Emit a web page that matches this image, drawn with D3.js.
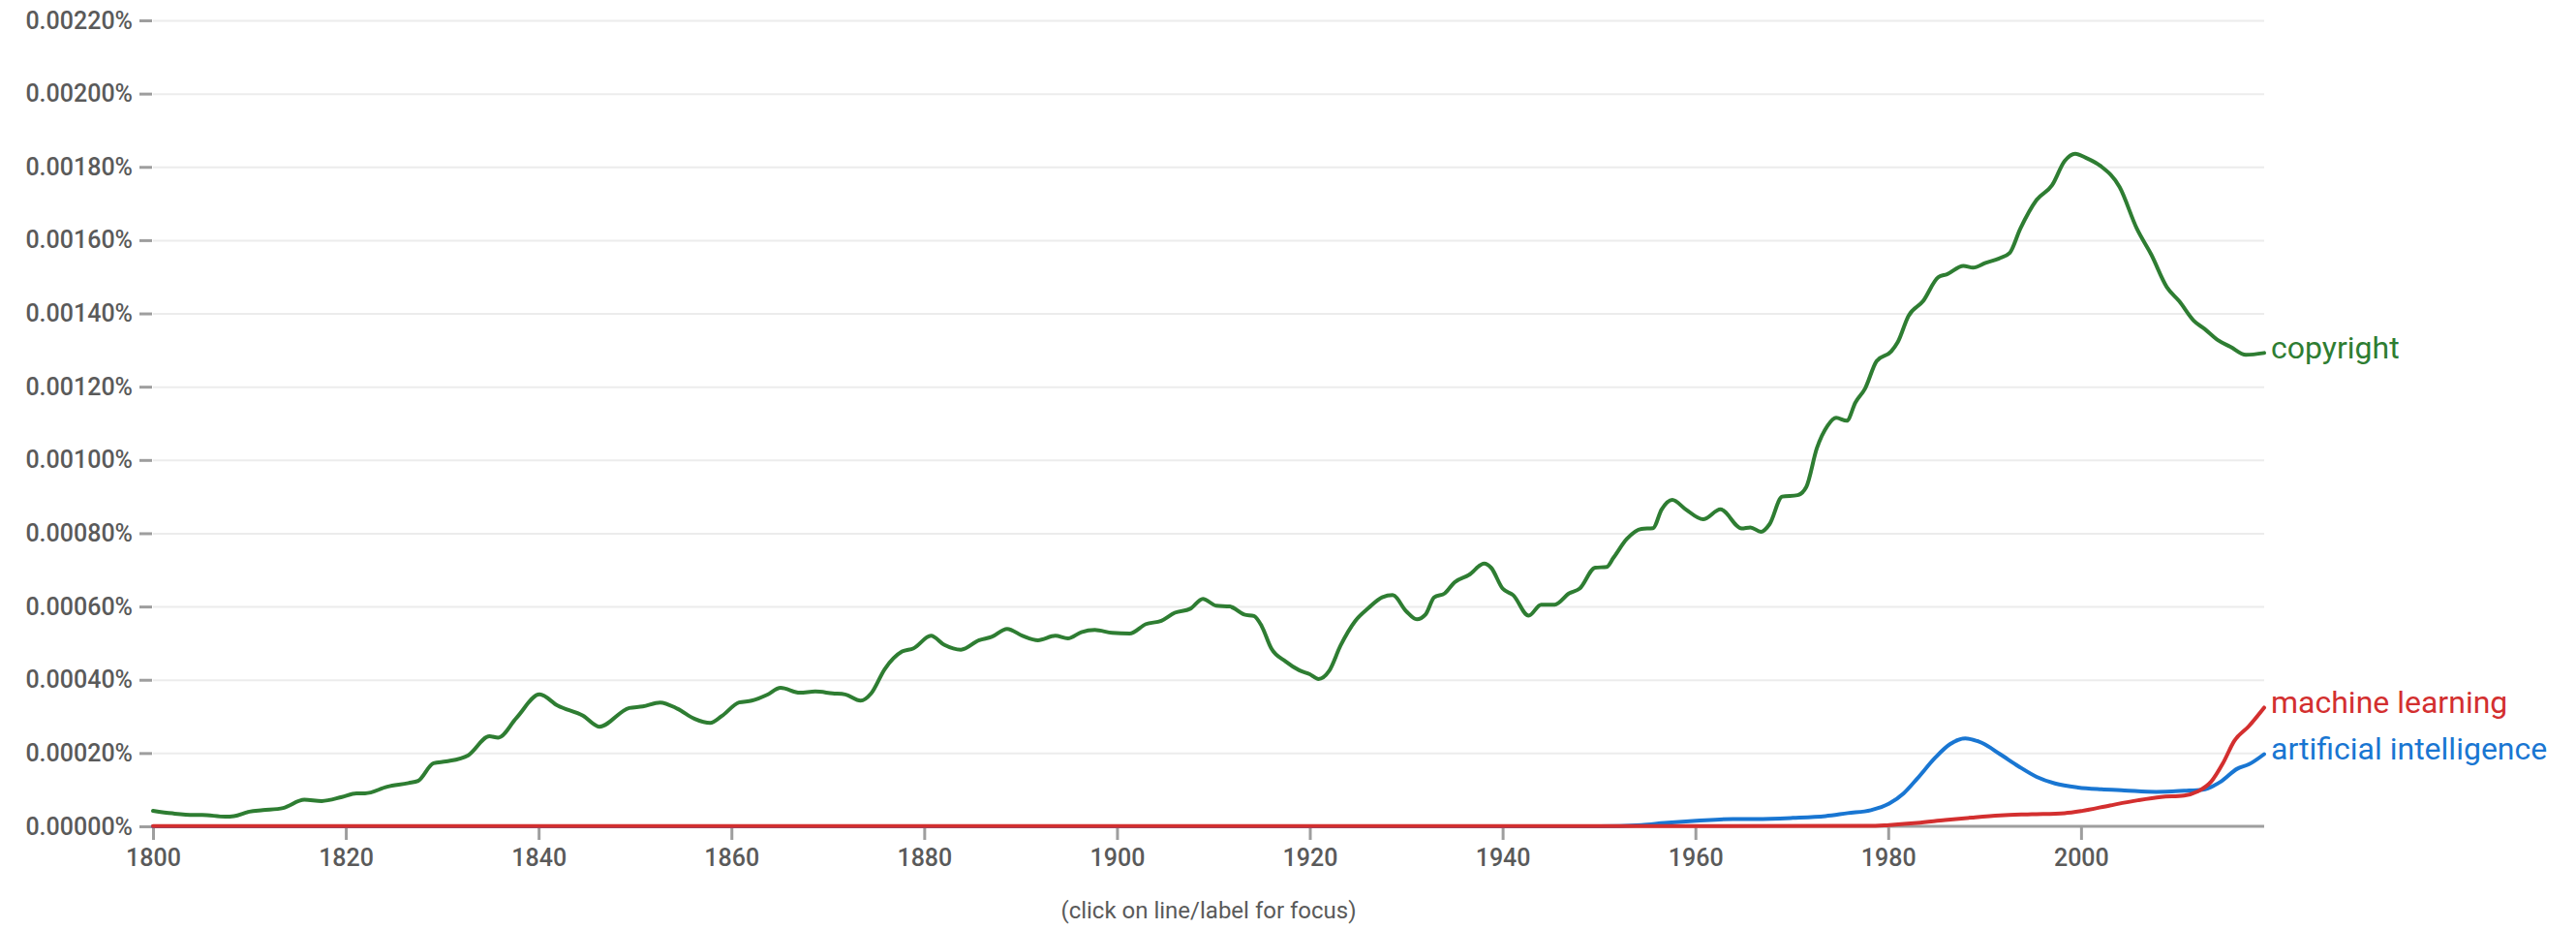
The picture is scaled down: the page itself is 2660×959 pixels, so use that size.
<!DOCTYPE html>
<html>
<head>
<meta charset="utf-8">
<script src="https://cdn.jsdelivr.net/npm/d3@7"></script>
<style>
  html, body { margin: 0; padding: 0; background: #fff; }
  svg { display: block; font-family: Roboto, "Noto Sans", Arial, sans-serif; }
</style>
</head>
<body>
<svg id="chart" width="2660" height="959"></svg>
<script>
// ---------- DATA (values in percent) ----------
const copyrightYears = [1800,1802,1804.2,1805.1,1807.5,1808.4,1810,1811.4,1813.5,1815.7,1817.5,1819.6,1821.1,1822,1824.3,1826.5,1827.5,1829.1,1830.4,1832.7,1834.9,1835.8,1837.7,1840.1,1842,1844.6,1846.3,1849.4,1850.8,1852.6,1854.4,1856.2,1857.8,1859.0,1860.8,1862.1,1863.7,1865.1,1867.1,1868.7,1870.5,1871.8,1873.4,1874.5,1875.9,1877.7,1878.9,1880.7,1882.1,1883.8,1885.7,1887,1888.6,1890.2,1891.8,1893.6,1894.9,1896.3,1897.7,1899.5,1901.3,1903,1904.6,1906,1907.6,1908.9,1910.3,1911.7,1913.2,1914.2,1915,1916,1917.5,1918.9,1920,1920.9,1922,1923.2,1924.7,1926.1,1927.5,1928.6,1930,1931.1,1932,1932.9,1934,1935,1936.5,1938.1,1938.8,1940,1941.1,1942.7,1944,1945.4,1946.9,1948,1949.6,1950.8,1951.5,1952.9,1954.4,1955.6,1956.5,1957.6,1959,1960.8,1962.6,1964.8,1965.7,1966.8,1967.7,1969,1970.6,1971.5,1972.6,1973.7,1974.6,1975.7,1976.6,1977.6,1978.8,1980.3,1981,1982.1,1983.6,1985.2,1986.1,1987.8,1988.8,1990.1,1991.5,1992.6,1993.7,1995.4,1997,1998.3,1999.4,2000.5,2002,2004,2005.8,2007.3,2008.9,2010.2,2011.7,2012.8,2014.2,2015.5,2017.1,2019];
const copyrightValues = [0.0000424,0.0000354,0.000031,0.000031,0.0000265,0.000028,0.00004,0.000044,0.00005,0.0000725,0.000069,0.00008,0.00009,0.00009,0.000108,0.000118,0.000124,0.000172,0.000177,0.000194,0.000246,0.000242,0.000296,0.00036,0.000329,0.000302,0.000272,0.000323,0.000327,0.000338,0.000321,0.000293,0.000282,0.000301,0.000338,0.000343,0.000359,0.000378,0.000365,0.000368,0.000363,0.00036,0.000343,0.000363,0.000429,0.000477,0.000486,0.00052,0.000495,0.000482,0.000508,0.000517,0.000539,0.00052,0.000508,0.00052,0.000513,0.00053,0.000536,0.000528,0.000526,0.000552,0.000561,0.000583,0.000594,0.000621,0.000602,0.0006,0.000578,0.000574,0.000547,0.000486,0.00045,0.000426,0.000415,0.000402,0.000424,0.000494,0.00056,0.000596,0.000625,0.000631,0.000587,0.000565,0.000578,0.000625,0.000636,0.000666,0.000686,0.000717,0.000706,0.000649,0.000631,0.000575,0.000605,0.000605,0.000636,0.000649,0.000706,0.000708,0.000733,0.000785,0.000812,0.000814,0.000865,0.000891,0.000865,0.000838,0.000865,0.000813,0.000816,0.000804,0.000825,0.0009,0.000904,0.000926,0.001032,0.001093,0.001115,0.001107,0.001157,0.001195,0.00127,0.001296,0.001322,0.001393,0.001433,0.001499,0.001507,0.00153,0.001525,0.001538,0.00155,0.001565,0.001631,0.00171,0.00175,0.001816,0.001836,0.001825,0.001803,0.001745,0.001631,0.00156,0.001472,0.001433,0.00138,0.001358,0.001327,0.001309,0.001287,0.001292];

const aiYears = [1800,1900,1950,1954.4,1956.8,1960.1,1963.9,1966.3,1970.1,1973.5,1975.8,1978.2,1980.1,1981.6,1983,1984.9,1986.4,1988,1989.7,1991.6,1993.5,1995.4,1997.3,1999.7,2002.1,2004.5,2007.8,2010.7,2012.6,2014.5,2016.2,2017.4,2019];
const aiValues = [0,0,0,0.0000036,0.000009,0.000015,0.00002,0.00002,0.000023,0.000028,0.000036,0.000044,0.000062,0.00009,0.00013,0.000188,0.000224,0.00024,0.000228,0.000197,0.000164,0.000135,0.000117,0.000106,0.000101,0.000098,0.000094,0.000097,0.0001,0.000122,0.000157,0.000169,0.000197];

const mlYears = [1800,1900,1978,1980.1,1983,1985.9,1988.7,1991.6,1994.9,1998.3,2000.1,2003,2005.9,2008.3,2010.7,2012.1,2013.5,2014.7,2015.9,2017.4,2019];
const mlValues = [0.0000005,0.0000005,0.000001,0.0000036,0.000009,0.000017,0.000024,0.00003,0.000033,0.000036,0.000042,0.000057,0.000071,0.00008,0.000084,0.000095,0.000122,0.000171,0.000233,0.000273,0.000324];

const seriesNames = ["copyright", "artificial intelligence", "machine learning"];
const seriesColors = ["#2e7d32", "#1976d2", "#d32f2f"];
const xTickValues = [1800,1820,1840,1860,1880,1900,1920,1940,1960,1980,2000];
const yTickValues = [0,0.0002,0.0004,0.0006,0.0008,0.001,0.0012,0.0014,0.0016,0.0018,0.002,0.0022];
const footnote = "(click on line/label for focus)";

// ---------- LAYOUT ----------
const plotLeft = 158, plotRight = 2338, plotTop = 21, plotBottom = 853;
const svg = d3.select("#chart");

const x = d3.scaleLinear().domain([1800, 2019]).range([plotLeft, plotRight]);
const y = d3.scaleLinear().domain([0, 0.0022]).range([plotBottom, plotTop]);

// gridlines
const grid = svg.append("g").attr("transform", `translate(${plotLeft},0)`)
  .call(d3.axisLeft(y).tickValues(yTickValues.slice(1)).tickSize(-(plotRight - plotLeft)).tickFormat(""));
grid.select(".domain").remove();
grid.selectAll("line").attr("stroke", "#ececec").attr("stroke-width", 2);

// y axis ticks + labels
const yAxis = svg.append("g").attr("transform", `translate(${plotLeft - 1},0)`)
  .call(d3.axisLeft(y).tickValues(yTickValues).tickSize(13).tickPadding(7)
    .tickFormat(d => d3.format(".5f")(d) + "%"));
yAxis.select(".domain").remove();
yAxis.selectAll("line").attr("stroke", "#9e9e9e").attr("stroke-width", 3);
yAxis.selectAll("text").attr("fill", "#5a5a5a").attr("font-size", 25)
  .attr("font-weight", 500).attr("font-family", "Roboto");

// x axis
const xAxis = svg.append("g").attr("transform", `translate(0,${plotBottom})`)
  .call(d3.axisBottom(x).tickValues(xTickValues).tickSize(14).tickPadding(9)
    .tickFormat(d3.format("d")));
xAxis.select(".domain").attr("stroke", "#9e9e9e").attr("stroke-width", 3)
  .attr("d", `M${plotLeft},0H${plotRight}`);
xAxis.selectAll("line").attr("stroke", "#9e9e9e").attr("stroke-width", 3);
xAxis.selectAll("text").attr("fill", "#5a5a5a").attr("font-size", 25)
  .attr("font-weight", 500).attr("font-family", "Roboto");

// lines
const seriesData = [
  d3.zip(copyrightYears, copyrightValues),
  d3.zip(aiYears, aiValues),
  d3.zip(mlYears, mlValues)
];
const line = d3.line().x(d => x(d[0])).y(d => y(d[1])).curve(d3.curveMonotoneX);

seriesData.forEach((data, i) => {
  svg.append("path").datum(data)
    .attr("d", line)
    .attr("fill", "none")
    .attr("stroke", seriesColors[i])
    .attr("stroke-width", 4)
    .attr("stroke-linejoin", "round")
    .attr("stroke-linecap", "round");
});

// series labels
seriesData.forEach((data, i) => {
  const last = data[data.length - 1];
  svg.append("text")
    .attr("x", x(last[0]) + 7)
    .attr("y", y(last[1]))
    .attr("dy", "0.17em")
    .attr("fill", seriesColors[i])
    .attr("font-size", 32)
    .attr("font-family", "Roboto")
    .text(seriesNames[i]);
});

// footnote
svg.append("text")
  .attr("x", (plotLeft + plotRight) / 2)
  .attr("y", 948)
  .attr("text-anchor", "middle")
  .attr("fill", "#5a5a5a")
  .attr("font-size", 24)
  .attr("font-family", "Roboto")
  .text(footnote);
</script>
</body>
</html>
